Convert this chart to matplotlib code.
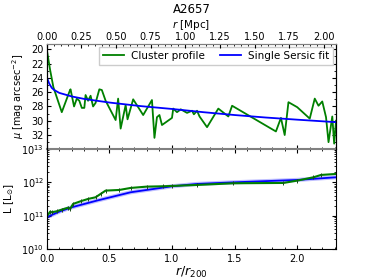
import matplotlib
matplotlib.use('Agg')
import matplotlib.pyplot as plt
from matplotlib.ticker import MultipleLocator, NullFormatter, FormatStrFormatter

# surface brightness profile (top panel), r/r200 vs mu
prof_r = [0.0, 0.027, 0.053, 0.12, 0.186, 0.19, 0.218, 0.24, 0.26, 0.28, 0.30, 0.31,
          0.33, 0.35, 0.37, 0.39, 0.42, 0.44, 0.47, 0.55, 0.57, 0.59, 0.63, 0.645,
          0.69, 0.77, 0.84, 0.86, 0.88, 0.90, 0.92, 1.00, 1.01, 1.04, 1.07, 1.12,
          1.16, 1.175, 1.20, 1.22, 1.28, 1.37, 1.45, 1.48, 1.83, 1.87, 1.90, 1.93,
          2.00, 2.10, 2.14, 2.17, 2.20, 2.23, 2.25, 2.28, 2.295, 2.31]
prof_mu = [20.0, 22.9, 25.3, 28.8, 25.7, 25.6, 28.0, 26.9, 27.2, 28.2, 28.2, 26.4,
           27.2, 26.5, 28.0, 27.5, 25.6, 25.7, 27.2, 29.9, 26.9, 31.1, 27.8, 29.8,
           27.0, 29.2, 27.1, 32.4, 29.5, 29.2, 30.6, 29.6, 28.3, 28.8, 28.4, 28.9,
           28.6, 29.1, 28.6, 29.4, 30.9, 28.3, 29.4, 27.9, 31.5, 29.6, 32.0, 27.4,
           28.1, 29.7, 26.9, 27.9, 27.3, 29.5, 33.0, 29.4, 33.2, 30.0]

# single Sersic fit (top panel)
fit_r = [0.0, 0.02, 0.04, 0.06, 0.1, 0.2, 0.3, 0.5, 0.75, 1.0, 1.25, 1.5, 1.75, 2.0, 2.31]
fit_mu = [23.9, 24.8, 25.4, 25.7, 26.1, 26.6, 26.95, 27.45, 27.95, 28.35, 28.8, 29.2,
          29.55, 29.85, 30.2]

# cumulative luminosity (bottom panel), log10 L
lum_r = [0.0, 0.027, 0.04, 0.08, 0.12, 0.173, 0.187, 0.21, 0.27, 0.33, 0.39, 0.43,
         0.47, 0.58, 0.67, 0.80, 0.93, 1.00, 1.20, 1.49, 1.89, 2.00, 2.13, 2.19, 2.31]
lum_L = [10.97, 11.12, 11.1, 11.13, 11.18, 11.24, 11.2, 11.35, 11.43, 11.5, 11.55, 11.65,
         11.75, 11.77, 11.83, 11.87, 11.88, 11.89, 11.92, 11.97, 11.98, 12.05, 12.15,
         12.22, 12.25]

# Sersic fit luminosity, log10 L
lfit_r = [0.0, 0.1, 0.2, 0.4, 0.67, 1.0, 1.2, 1.5, 2.0, 2.31]
lfit_L = [10.95, 11.12, 11.25, 11.45, 11.7, 11.88, 11.95, 12.0, 12.07, 12.15]

r200_mpc = 0.904
xmax = 2.31

fig = plt.figure(figsize=(3.74, 2.8), dpi=100)
ax1 = fig.add_axes([0.125, 0.468, 0.7735, 0.375])
ax2 = fig.add_axes([0.125, 0.111, 0.7735, 0.357])

fs = 7
ax1.plot(prof_r, prof_mu, color='green', lw=1.3, label='Cluster profile')
ax1.plot(fit_r, fit_mu, color='blue', lw=1.3, label='Single Sersic fit')
ax1.set_xlim(0, xmax)
ax1.set_ylim(33.95, 19.25)
ax1.set_yticks([20, 22, 24, 26, 28, 30, 32])
ax1.yaxis.set_minor_locator(MultipleLocator(1))
ax1.xaxis.set_minor_locator(MultipleLocator(0.1))
ax1.xaxis.set_major_locator(MultipleLocator(0.5))
ax1.xaxis.set_major_formatter(NullFormatter())
ax1.tick_params(which='both', direction='in', top=True, right=True, labelsize=fs, pad=2)
ax1.tick_params(which='major', length=3)
ax1.tick_params(which='minor', length=1.5)
ax1.set_ylabel(r'$\mu$ [mag arcsec$^{-2}$]', fontsize=fs, labelpad=4)
ax1.spines['bottom'].set_visible(False)
ax1.spines['top'].set_color('#808080')
ax1.legend(loc='upper right', ncol=2, fontsize=fs + 0.5, handlelength=2.0,
           borderpad=0.4, columnspacing=1.4, handletextpad=0.7, borderaxespad=0.25,
           fancybox=False, framealpha=1)

top = ax1.twiny()
top.set_xlim(0, xmax * r200_mpc)
top.xaxis.set_major_locator(MultipleLocator(0.25))
top.xaxis.set_minor_locator(MultipleLocator(0.05))
top.xaxis.set_major_formatter(FormatStrFormatter('%.2f'))
top.tick_params(which='both', direction='in', labelsize=fs, pad=1.5)
top.tick_params(which='major', length=3)
top.tick_params(which='minor', length=1.5)
top.set_xlabel(r'$r$ [Mpc]', fontsize=fs + 0.5, labelpad=2.5)
top.spines['top'].set_color('#808080')
top.spines['bottom'].set_visible(False)
ax1.set_title('A2657', fontsize=fs + 1.5, pad=22)

Lp = [10 ** v for v in lum_L]
Lf = [10 ** v for v in lfit_L]
ax2.plot(lfit_r, Lf, color='blue', lw=3, alpha=0.25)
ax2.plot(lfit_r, Lf, color='blue', lw=1.3)
ax2.plot(lum_r, Lp, color='green', lw=1.5, marker='|', ms=3, mec='#1a4d1a', mew=0.7)
ax2.set_yscale('log')
ax2.set_xlim(0, xmax)
ax2.set_ylim(1e10, 1e13)
ax2.xaxis.set_major_locator(MultipleLocator(0.5))
ax2.xaxis.set_minor_locator(MultipleLocator(0.1))
ax2.tick_params(which='both', direction='in', top=True, right=True, labelsize=fs, pad=2)
ax2.tick_params(axis='x', pad=4)
ax2.tick_params(which='major', length=3)
ax2.tick_params(which='minor', length=1.5)
ax2.spines['top'].set_color('#808080')
ax2.spines['top'].set_linewidth(1.5)
ax2.set_ylabel(r'L [L$_{\odot}$]', fontsize=fs + 0.5, labelpad=4)
ax2.set_xlabel(r'$r/r_{200}$', fontsize=fs + 2, labelpad=0)

fig.savefig('out.png', dpi=100)
